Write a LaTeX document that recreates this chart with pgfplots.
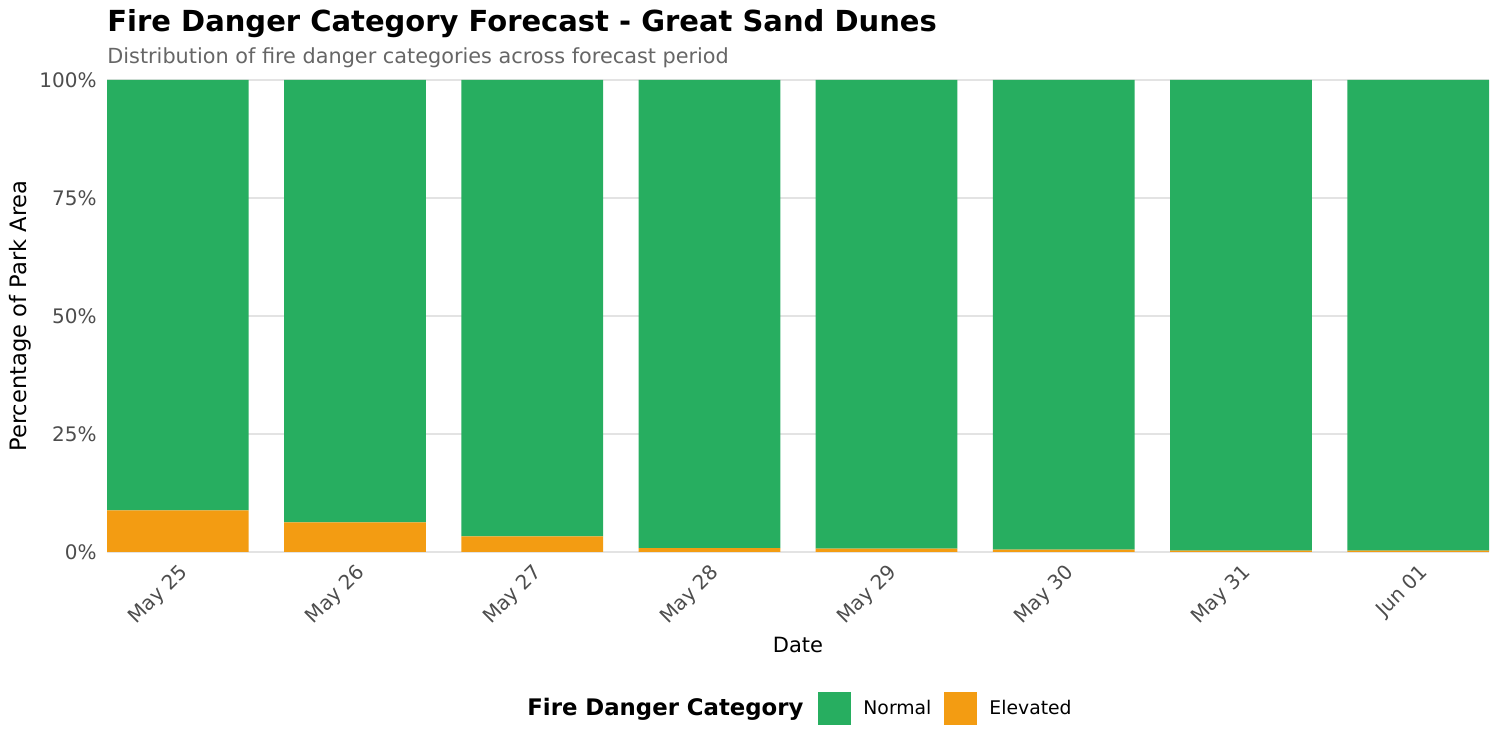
\documentclass[border=0pt]{standalone}
\usepackage{fontspec}
\setmainfont{DejaVu Sans}
\usepackage{pgfplots}
\pgfplotsset{compat=1.18}
\definecolor{normalc}{HTML}{27AE60}
\definecolor{elevc}{HTML}{F39C12}
\definecolor{gridc}{HTML}{E3E3E3}
\definecolor{tickc}{HTML}{4D4D4D}
\definecolor{subc}{HTML}{666666}
\begin{document}
\begin{tikzpicture}[x=1pt,y=1pt]
\path[use as bounding box] (0,0) rectangle (750,375);
\begin{axis}[
    at={(53.5pt,99pt)}, anchor=south west,
    scale only axis, width=691pt, height=236pt,
    ybar stacked, bar width=0.8,
    xmin=-0.4, xmax=7.4, ymin=0, ymax=100,
    axis line style={draw=none},
    xtick={0,...,7},
    xticklabels={May 25,May 26,May 27,May 28,May 29,May 30,May 31,Jun 01},
    x tick label style={yshift=-5pt, rotate=45, anchor=north east, font=\fontsize{10}{12}\selectfont, text=tickc, inner sep=0pt},
    ytick={0,25,50,75,100},
    yticklabels={0\%,25\%,50\%,75\%,100\%},
    y tick label style={font=\fontsize{10}{12}\selectfont, text=tickc, inner sep=0pt, xshift=-5pt},
    ymajorgrids, major grid style={gridc, line width=0.6pt},
    tick style={draw=none},
    /pgf/number format/assume math mode=true,
    legend columns=2,
    legend style={draw=none, fill=none, at={(0.5145,-0.3326)}, anchor=west, inner sep=0pt,
      nodes={inner sep=0pt},
      font=\fontsize{9.4}{11}\selectfont,
      /tikz/every odd column/.append style={column sep=6pt},
      /tikz/every even column/.append style={column sep=6.5pt}},
    legend image code/.code={\fill[#1] (0pt,-8.25pt) rectangle (16.5pt,8.25pt);},
    clip=false,
  ]
\addplot[fill=elevc, draw=none, forget plot] coordinates {(0,8.8) (1,6.3) (2,3.3) (3,0.8) (4,0.7) (5,0.5) (6,0.3) (7,0.3)};
\addplot[fill=normalc, draw=none, forget plot] coordinates {(0,91.2) (1,93.7) (2,96.7) (3,99.2) (4,99.3) (5,99.5) (6,99.7) (7,99.7)};
\addlegendimage{fill=normalc, draw=none}
\addlegendentry{Normal}
\addlegendimage{fill=elevc, draw=none}
\addlegendentry{Elevated}
\end{axis}
\node[anchor=base west, inner sep=0pt, font=\fontsize{14.5}{16}\bfseries] at (53.5,359) {Fire Danger Category Forecast - Great Sand Dunes};
\node[anchor=base west, inner sep=0pt, font=\fontsize{10.4}{12}\selectfont, text=subc] at (53.5,343) {Distribution of fire danger categories across forecast period};
\node[rotate=90, inner sep=0pt, font=\fontsize{11.3}{13}\selectfont] at (10,217) {Percentage of Park Area};
\node[inner sep=0pt, font=\fontsize{10.5}{12}\selectfont] at (399,52.5) {Date};
\node[anchor=west, inner sep=0pt, font=\fontsize{11.4}{13}\bfseries] at (263.5,20.5) {Fire Danger Category};
\end{tikzpicture}
\end{document}
